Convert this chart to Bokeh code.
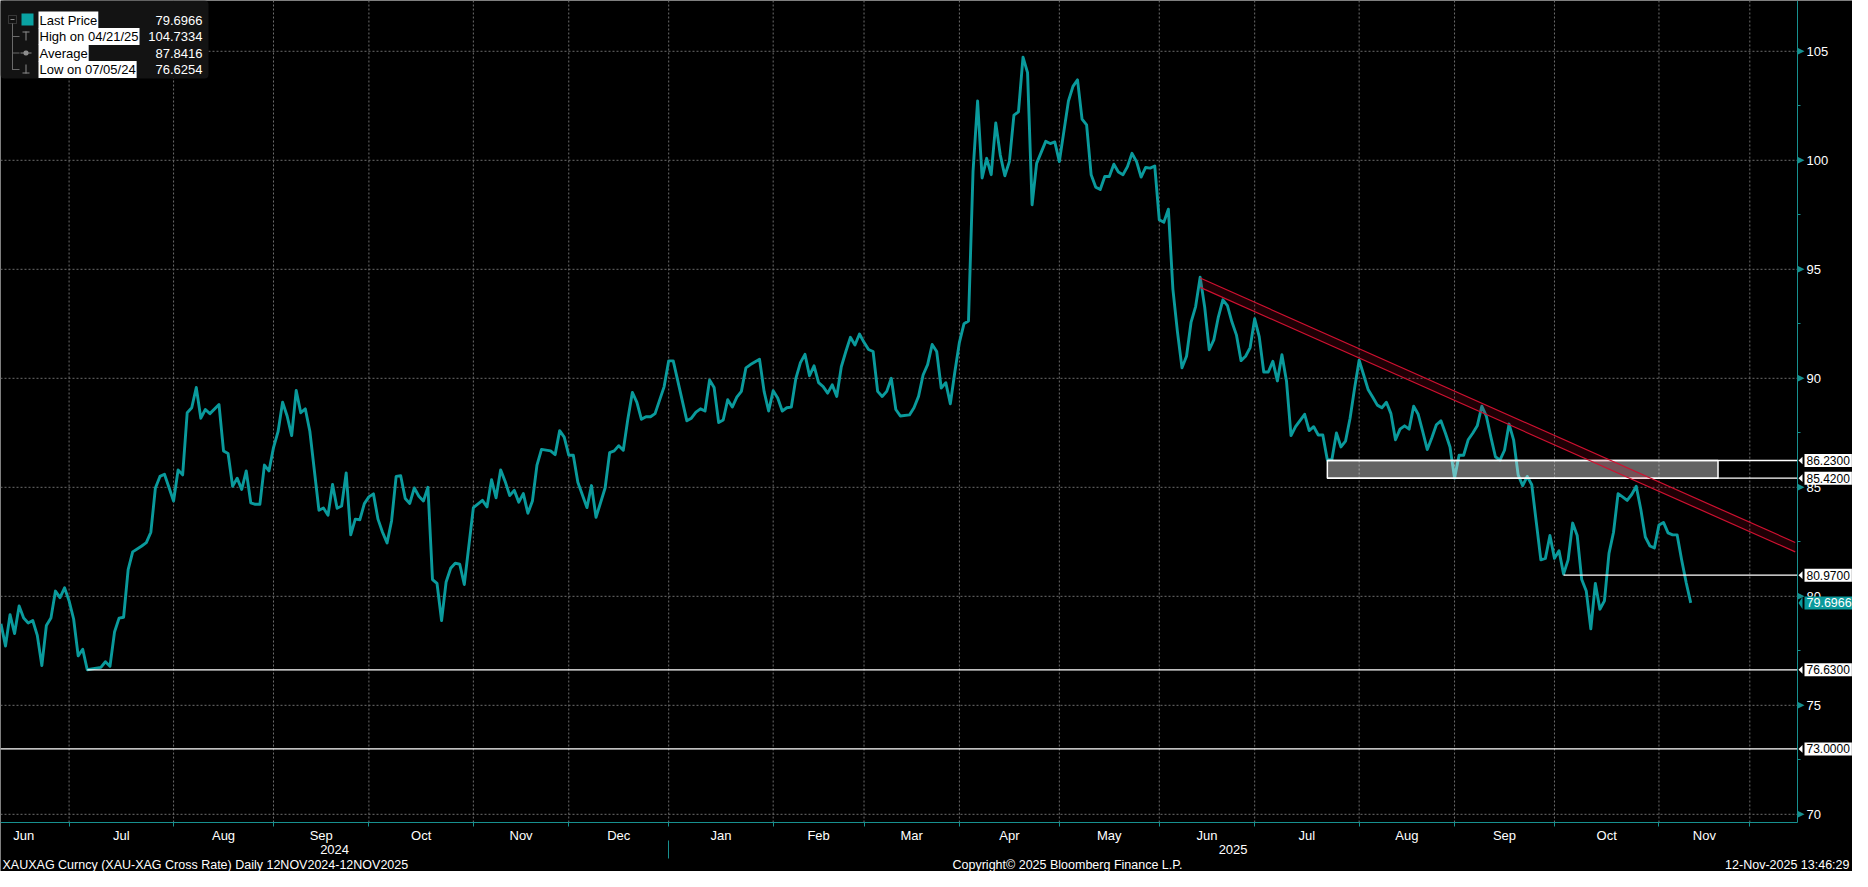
import numpy as np
from bokeh.plotting import figure
from bokeh.models import Range1d, FixedTicker, LinearAxis, Label, BoxAnnotation, PolyAnnotation
from bokeh.embed import file_html
from bokeh.resources import INLINE

# ---------------- data ----------------
dates = [
    "2024-06-10", "2024-06-11", "2024-06-12", "2024-06-13", "2024-06-14", "2024-06-17", "2024-06-18", "2024-06-19",
    "2024-06-20", "2024-06-21", "2024-06-24", "2024-06-25", "2024-06-26", "2024-06-27", "2024-06-28", "2024-07-01",
    "2024-07-02", "2024-07-03", "2024-07-04", "2024-07-05", "2024-07-10", "2024-07-11", "2024-07-12", "2024-07-15",
    "2024-07-16", "2024-07-17", "2024-07-18", "2024-07-19", "2024-07-23", "2024-07-24", "2024-07-25", "2024-07-26",
    "2024-07-29", "2024-07-30", "2024-08-01", "2024-08-02", "2024-08-05", "2024-08-06", "2024-08-07", "2024-08-08",
    "2024-08-09", "2024-08-12", "2024-08-13", "2024-08-15", "2024-08-16", "2024-08-19", "2024-08-20", "2024-08-21",
    "2024-08-22", "2024-08-23", "2024-08-26", "2024-08-27", "2024-08-28", "2024-08-29", "2024-08-30", "2024-09-02",
    "2024-09-03", "2024-09-04", "2024-09-05", "2024-09-06", "2024-09-09", "2024-09-10", "2024-09-11", "2024-09-12",
    "2024-09-16", "2024-09-17", "2024-09-18", "2024-09-19", "2024-09-20", "2024-09-23", "2024-09-24", "2024-09-25",
    "2024-09-26", "2024-09-27", "2024-09-30", "2024-10-01", "2024-10-02", "2024-10-03", "2024-10-04", "2024-10-07",
    "2024-10-08", "2024-10-09", "2024-10-10", "2024-10-11", "2024-10-14", "2024-10-15", "2024-10-16", "2024-10-17",
    "2024-10-18", "2024-10-21", "2024-10-22", "2024-10-23", "2024-10-24", "2024-10-25", "2024-10-28", "2024-10-29",
    "2024-10-30", "2024-11-01", "2024-11-05", "2024-11-06", "2024-11-07", "2024-11-08", "2024-11-11", "2024-11-12",
    "2024-11-13", "2024-11-14", "2024-11-15", "2024-11-18", "2024-11-19", "2024-11-20", "2024-11-21", "2024-11-22",
    "2024-11-26", "2024-11-27", "2024-11-28", "2024-11-29", "2024-12-02", "2024-12-03", "2024-12-04", "2024-12-06",
    "2024-12-09", "2024-12-10", "2024-12-12", "2024-12-13", "2024-12-16", "2024-12-17", "2024-12-18", "2024-12-19",
    "2024-12-20", "2024-12-23", "2024-12-24", "2024-12-25", "2024-12-26", "2024-12-27", "2024-12-31", "2025-01-01",
    "2025-01-02", "2025-01-03", "2025-01-07", "2025-01-08", "2025-01-09", "2025-01-10", "2025-01-13", "2025-01-14",
    "2025-01-15", "2025-01-16", "2025-01-17", "2025-01-20", "2025-01-21", "2025-01-22", "2025-01-23", "2025-01-24",
    "2025-01-27", "2025-01-29", "2025-01-30", "2025-01-31", "2025-02-03", "2025-02-04", "2025-02-05", "2025-02-06",
    "2025-02-07", "2025-02-10", "2025-02-11", "2025-02-12", "2025-02-13", "2025-02-14", "2025-02-17", "2025-02-18",
    "2025-02-19", "2025-02-20", "2025-02-21", "2025-02-24", "2025-02-25", "2025-02-26", "2025-02-27", "2025-02-28",
    "2025-03-03", "2025-03-04", "2025-03-05", "2025-03-06", "2025-03-07", "2025-03-10", "2025-03-11", "2025-03-12",
    "2025-03-13", "2025-03-17", "2025-03-18", "2025-03-19", "2025-03-20", "2025-03-21", "2025-03-24", "2025-03-25",
    "2025-03-26", "2025-03-27", "2025-03-28", "2025-03-31", "2025-04-01", "2025-04-02", "2025-04-03", "2025-04-04",
    "2025-04-07", "2025-04-08", "2025-04-09", "2025-04-10", "2025-04-11", "2025-04-14", "2025-04-15", "2025-04-16",
    "2025-04-17", "2025-04-18", "2025-04-21", "2025-04-22", "2025-04-23", "2025-04-24", "2025-04-28", "2025-04-29",
    "2025-04-30", "2025-05-01", "2025-05-05", "2025-05-06", "2025-05-07", "2025-05-08", "2025-05-09", "2025-05-12",
    "2025-05-13", "2025-05-14", "2025-05-15", "2025-05-16", "2025-05-19", "2025-05-20", "2025-05-21", "2025-05-22",
    "2025-05-23", "2025-05-26", "2025-05-27", "2025-05-28", "2025-05-29", "2025-05-30", "2025-06-02", "2025-06-03",
    "2025-06-04", "2025-06-05", "2025-06-06", "2025-06-09", "2025-06-10", "2025-06-11", "2025-06-12", "2025-06-13",
    "2025-06-16", "2025-06-17", "2025-06-18", "2025-06-19", "2025-06-20", "2025-06-23", "2025-06-24", "2025-06-25",
    "2025-06-26", "2025-06-27", "2025-06-30", "2025-07-01", "2025-07-02", "2025-07-03", "2025-07-04", "2025-07-07",
    "2025-07-08", "2025-07-09", "2025-07-10", "2025-07-11", "2025-07-14", "2025-07-16", "2025-07-17", "2025-07-18",
    "2025-07-21", "2025-07-22", "2025-07-23", "2025-07-24", "2025-07-25", "2025-07-28", "2025-07-29", "2025-07-30",
    "2025-07-31", "2025-08-01", "2025-08-04", "2025-08-05", "2025-08-06", "2025-08-07", "2025-08-08", "2025-08-11",
    "2025-08-12", "2025-08-13", "2025-08-14", "2025-08-15", "2025-08-18", "2025-08-19", "2025-08-20", "2025-08-21",
    "2025-08-22", "2025-08-25", "2025-08-26", "2025-08-27", "2025-08-28", "2025-08-29", "2025-09-01", "2025-09-02",
    "2025-09-03", "2025-09-04", "2025-09-05", "2025-09-08", "2025-09-09", "2025-09-10", "2025-09-11", "2025-09-12",
    "2025-09-15", "2025-09-16", "2025-09-17", "2025-09-18", "2025-09-19", "2025-09-22", "2025-09-23", "2025-09-24",
    "2025-09-25", "2025-09-26", "2025-09-29", "2025-09-30", "2025-10-01", "2025-10-02", "2025-10-03", "2025-10-06",
    "2025-10-07", "2025-10-08", "2025-10-09", "2025-10-10", "2025-10-13", "2025-10-14", "2025-10-15", "2025-10-16",
    "2025-10-17", "2025-10-20", "2025-10-21", "2025-10-22", "2025-10-23", "2025-10-24", "2025-10-27", "2025-10-28",
    "2025-10-29", "2025-10-30", "2025-10-31", "2025-11-03", "2025-11-04", "2025-11-05", "2025-11-06", "2025-11-07",
    "2025-11-10", "2025-11-11", "2025-11-12",
]
ratio = [
    78.74, 77.72, 79.16, 78.29, 79.56, 79.00, 78.78, 78.89,
    78.21, 76.82, 78.66, 79.00, 80.24, 79.94, 80.39, 79.79,
    78.96, 77.27, 77.57, 76.63, 76.74, 77.00, 76.79, 78.36,
    79.00, 79.04, 81.22, 82.04, 82.31, 82.46, 82.94, 84.97,
    85.50, 85.60, 84.37, 85.80, 85.57, 88.42, 88.65, 89.58,
    88.17, 88.57, 88.38, 88.80, 86.67, 86.55, 85.05, 85.42,
    84.90, 85.75, 84.29, 84.22, 84.22, 86.02, 85.75, 86.82,
    87.55, 88.90, 88.27, 87.37, 89.44, 88.42, 88.60, 87.57,
    83.95, 84.05, 83.72, 85.13, 84.04, 84.14, 85.66, 82.82,
    83.54, 83.51, 84.25, 84.56, 84.70, 83.54, 82.94, 82.45,
    83.47, 85.50, 85.53, 84.49, 84.26, 84.97, 84.59, 84.37,
    85.00, 80.77, 80.59, 78.89, 80.66, 81.29, 81.52, 81.47,
    80.54, 84.07, 84.40, 84.10, 85.35, 84.52, 85.80, 85.27,
    84.62, 84.86, 84.32, 84.71, 83.81, 84.37, 86.02, 86.74,
    86.67, 86.50, 87.60, 87.30, 86.47, 86.47, 85.23, 84.07,
    85.08, 83.62, 84.97, 86.59, 86.67, 86.91, 86.70, 88.12,
    89.35, 88.90, 88.12, 88.24, 88.24, 88.38, 89.62, 90.80,
    90.80, 89.88, 88.05, 88.17, 88.45, 88.60, 88.50, 89.92,
    89.58, 87.97, 88.09, 89.02, 88.68, 89.14, 89.40, 90.48,
    90.63, 90.87, 89.40, 88.50, 89.43, 89.10, 88.50, 88.65,
    88.68, 90.00, 90.72, 91.10, 90.12, 90.57, 89.80, 89.62,
    89.32, 89.70, 89.17, 90.53, 91.23, 91.88, 91.53, 92.03,
    91.65, 91.32, 91.23, 89.40, 89.17, 89.40, 90.00, 88.57,
    88.27, 88.32, 88.65, 89.17, 90.15, 90.63, 91.55, 91.23,
    89.55, 89.80, 88.83, 90.30, 91.65, 92.50, 92.63, 99.49,
    102.72, 99.19, 100.09, 99.34, 101.71, 100.24, 99.29, 99.94,
    102.07, 102.22, 104.73, 104.02, 97.96, 99.86, 100.87, 100.77,
    100.84, 99.94, 102.72, 103.39, 103.69, 101.89, 101.62, 99.34,
    98.77, 98.66, 99.26, 99.26, 99.82, 99.46, 99.34, 99.71,
    100.32, 99.94, 99.23, 99.67, 99.64, 99.74, 97.27, 97.16,
    97.76, 94.08, 92.13, 90.48, 91.01, 92.58, 93.29, 94.64,
    93.26, 91.31, 91.76, 92.81, 93.60, 93.33, 92.58, 91.98,
    90.81, 91.01, 91.41, 92.73, 91.91, 90.29, 90.29, 90.78,
    89.88, 91.08, 89.88, 87.37, 87.78, 88.35, 87.60, 87.78,
    87.40, 87.40, 86.25, 86.28, 87.49, 86.85, 87.12, 88.17,
    89.55, 90.83, 90.15, 89.47, 89.13, 88.77, 88.65, 88.90,
    88.38, 87.18, 87.67, 87.82, 87.67, 88.72, 88.35, 87.55,
    86.73, 87.27, 87.87, 88.05, 87.48, 86.85, 85.42, 86.47,
    86.47, 87.18, 87.48, 87.82, 88.72, 88.27, 87.30, 86.40,
    86.25, 86.70, 87.90, 87.18, 85.57, 85.08, 85.50, 85.12,
    83.39, 81.67, 81.74, 82.79, 81.74, 82.09, 81.02, 81.67,
    83.36, 82.79, 80.77, 80.24, 78.51, 80.59, 79.41, 79.79,
    81.97, 82.94, 84.71, 84.56, 84.40, 84.67, 85.05, 83.99,
    82.72, 82.31, 82.22, 83.27, 83.39, 82.91, 82.82, 82.82,
    81.67, 80.62, 79.6966,
]

month_starts = ["2024-06-03", "2024-07-01", "2024-08-01", "2024-09-02", "2024-10-01", "2024-11-01",
                "2024-12-02", "2025-01-01", "2025-02-03", "2025-03-03", "2025-04-01", "2025-05-01",
                "2025-06-02", "2025-07-01", "2025-08-01", "2025-09-01", "2025-10-01", "2025-11-03",
                "2025-12-01"]
month_labels = ["Jun", "Jul", "Aug", "Sep", "Oct", "Nov", "Dec", "Jan", "Feb", "Mar", "Apr", "May",
                "Jun", "Jul", "Aug", "Sep", "Oct", "Nov"]
year_labels = ["2024", "2025"]
year_start = "2025-01-01"
y_ticks = [70, 75, 80, 85, 90, 95, 100, 105]
y_minor = [72.5, 77.5, 82.5, 87.5, 92.5, 97.5, 102.5]

levels = [86.23, 85.42, 80.97, 76.63, 73.0]
level_labels = ["86.2300", "85.4200", "80.9700", "76.6300", "73.0000"]
level_start = ["2025-07-23", "2025-07-23", "2025-10-03", "2024-07-05", None]
zone_start, zone_end = "2025-07-23", "2025-11-20"
zone_low, zone_high = 85.42, 86.23
trend_dates = ["2025-06-13", "2025-12-15"]
trend_upper = [94.60, 82.47]
trend_lower = [94.17, 82.04]

last_price = 79.6966
last_label = "79.6966"
legend_names = ["Last Price", "High on 04/21/25", "Average", "Low on 07/05/24"]
legend_values = ["79.6966", "104.7334", "87.8416", "76.6254"]
footer_left = "XAUXAG Curncy (XAU-XAG Cross Rate) Daily 12NOV2024-12NOV2025"
footer_mid = "Copyright\u00a9 2025 Bloomberg Finance L.P."
footer_right = "12-Nov-2025 13:46:29"

# ---------------- helpers ----------------
START = np.datetime64("2024-06-10")


def bd(d):
    return float(np.busday_count(START, np.datetime64(d)))


x = [bd(d) for d in dates]

TEAL = "#0a9a9c"
AXIS = "#17908f"
GRID = "#6c6c6c"
FONT = "Liberation Sans"
FS = "13px"

W, H = 1852, 871          # figure = frame (no borders); axes are pinned inside
CW, CH = 1797, 822        # chart area (left/top aligned)
X0, X1 = -0.1, 395.5      # visible business-day span of the chart area
Y0, Y1 = 69.625, 107.33   # visible value span of the chart area
XF1 = X0 + (X1 - X0) * W / CW
YF0 = Y1 - (Y1 - Y0) * H / CH
PXU = CH / (Y1 - Y0)

p = figure(width=W, height=H, title=None, output_backend="svg", toolbar_location=None,
           x_range=Range1d(X0, XF1), y_range=Range1d(YF0, Y1), y_axis_location="right",
           min_border=0, min_border_left=0, min_border_top=0, min_border_right=0, min_border_bottom=0,
           background_fill_color="black", border_fill_color="black", outline_line_color=None)
p.xgrid.visible = False
p.ygrid.visible = False

bounds = [bd(d) for d in month_starts]
mids = [float((a + b) / 2) for a, b in zip(bounds[:-1], bounds[1:])]

# dashed grid limited to the chart area
vb = [b for b in bounds if X0 < b < X1]
p.segment(x0=vb, y0=[Y0] * len(vb), x1=vb, y1=[Y1] * len(vb),
          line_color=GRID, line_dash="2 2", line_width=1)
p.segment(x0=[X0] * len(y_ticks), y0=y_ticks, x1=[X1] * len(y_ticks), y1=y_ticks,
          line_color=GRID, line_dash="2 2", line_width=1)

# bottom axis (months), pinned at the chart bottom
xa = p.xaxis[0]
xa.fixed_location = Y0
xa.bounds = (X0, X1)
xa.ticker = FixedTicker(ticks=mids, minor_ticks=bounds)
xa.major_label_overrides = {m: t for m, t in zip(mids, month_labels)}
xa.axis_line_color = AXIS
xa.major_tick_line_color = None
xa.major_tick_out = 4
xa.major_tick_in = 0
xa.minor_tick_line_color = AXIS
xa.minor_tick_out = 4
xa.minor_tick_in = 0
xa.major_label_standoff = 1
xa.major_label_text_color = "white"
xa.major_label_text_font = FONT
xa.major_label_text_font_size = FS

# second bottom axis (years) with the year separator tick
jan1 = bd(year_start)
year_pos = [float((X0 + jan1) / 2), float((jan1 + X1) / 2)]
xa2 = LinearAxis(ticker=FixedTicker(ticks=year_pos, minor_ticks=[jan1]),
                 major_label_overrides=dict(zip(year_pos, year_labels)))
xa2.fixed_location = Y0
xa2.bounds = (X0, X1)
xa2.axis_line_color = None
xa2.major_tick_line_color = None
xa2.major_tick_out = 0
xa2.major_tick_in = 0
xa2.minor_tick_line_color = AXIS
xa2.minor_tick_out = 36
xa2.minor_tick_in = -18
xa2.major_label_standoff = -14
xa2.major_label_text_color = "white"
xa2.major_label_text_font = FONT
xa2.major_label_text_font_size = FS
p.add_layout(xa2, "below")

# right axis, pinned at the chart's right edge
ya = p.yaxis[0]
ya.fixed_location = X1
ya.bounds = (Y0, Y1)
ya.ticker = FixedTicker(ticks=y_ticks, minor_ticks=y_minor)
ya.axis_line_color = AXIS
ya.major_tick_line_color = None
ya.major_tick_out = 7
ya.major_tick_in = 0
ya.minor_tick_line_color = AXIS
ya.minor_tick_out = 3
ya.minor_tick_in = 0
ya.major_label_standoff = 2
ya.major_label_text_color = "white"
ya.major_label_text_font = FONT
ya.major_label_text_font_size = FS

# main series
p.line(x, ratio, line_color=TEAL, line_width=2.9, line_join="round")

# support zone (translucent light box over the series)
p.quad(left=[bd(zone_start)], right=[bd(zone_end)], bottom=[zone_low], top=[zone_high],
       fill_color="white", fill_alpha=0.39, line_color="white", line_width=1.5)

# horizontal levels
lv_x0 = [bd(d) if d else X0 for d in level_start]
p.segment(x0=lv_x0, y0=levels, x1=[X1] * len(levels), y1=levels, line_color="white", line_width=1.3)

# trend channel
tx = [bd(d) for d in trend_dates]
p.patch(x=[tx[0], tx[1], tx[1], tx[0]],
        y=[trend_upper[0], trend_upper[1], trend_lower[1], trend_lower[0]],
        fill_color="#c0001c", fill_alpha=0.16, line_color=None)
p.line(tx, trend_upper, line_color="#d01030", line_width=1.2)
p.line(tx, trend_lower, line_color="#d01030", line_width=1.2)

# right-axis arrows
h = 3.5 / PXU
for t in y_ticks:
    p.add_layout(PolyAnnotation(xs=[CW, CW + 7, CW], xs_units="canvas", ys=[t + h, t, t - h], ys_units="data",
                                fill_color=AXIS, fill_alpha=1, line_color=None))

# callouts for levels
for lv, txt in zip(levels, level_labels):
    p.add_layout(PolyAnnotation(xs=[CW + 1, CW + 5, CW + 5], xs_units="canvas",
                                ys=[lv, lv + h * 1.1, lv - h * 1.1], ys_units="data",
                                fill_color="white", fill_alpha=1, line_color=None))
    p.add_layout(Label(x=CW + 7, x_units="canvas", y=lv, y_units="data", text=txt,
                       text_align="left", text_baseline="middle", text_color="black",
                       text_font=FONT, text_font_size="12px", background_fill_color="white",
                       background_fill_alpha=1, padding=2))

p.add_layout(PolyAnnotation(xs=[CW + 1, CW + 5, CW + 5], xs_units="canvas",
                            ys=[last_price, last_price + h * 1.7, last_price - h * 1.7], ys_units="data",
                            fill_color=TEAL, fill_alpha=1, line_color=None))
p.add_layout(Label(x=CW + 7, x_units="canvas", y=last_price, y_units="data", text=last_label,
                   text_align="left", text_baseline="middle", text_color="white",
                   text_font=FONT, text_font_size="12.5px", background_fill_color=TEAL,
                   background_fill_alpha=1, padding=2))

# footer
for txt, xx, al in ((footer_left, 2, "left"), (footer_mid, 1067, "center"), (footer_right, W - 3, "right")):
    p.add_layout(Label(x=xx, y=CH + 42, x_units="canvas", y_units="canvas", text=txt,
                       text_align=al, text_baseline="middle", text_color="white",
                       text_font=FONT, text_font_size="12.5px"))


# legend panel (top-left)
def cbox(l, t, r, b, color, radius=0):
    p.add_layout(BoxAnnotation(left=l, right=r, top=t, bottom=b, left_units="canvas", right_units="canvas",
                               top_units="canvas", bottom_units="canvas", fill_color=color, fill_alpha=1,
                               line_color=None, border_radius=radius, level="overlay"))


cbox(0, 0, 208, 78, "#131313", 4)
ICON = "#8c8c8c"
rows = [19.5, 36, 52.5, 69]
p.add_layout(BoxAnnotation(left=8, right=16, top=15, bottom=23, left_units="canvas", right_units="canvas",
                           top_units="canvas", bottom_units="canvas", fill_color=None, line_color=ICON,
                           line_width=1, level="overlay"))
cbox(10, 18.5, 14, 19.5, ICON)
cbox(11.5, 23, 12.5, 69, "#6a6a6a")
for r in rows[1:]:
    cbox(11.5, r - 0.5, 19, r + 0.5, "#6a6a6a")
cbox(21, 13, 33, 25, "#0aa3a3")
cbox(22, 31, 29, 32, ICON)
cbox(25, 31, 26, 40, ICON)
cbox(20, 52, 31, 53, ICON)
cbox(23, 50, 28, 55, ICON, 2)
cbox(25, 64, 26, 73, ICON)
cbox(22, 72, 29, 73, ICON)

for r, name, val in zip(rows, legend_names, legend_values):
    p.add_layout(Label(x=38, y=r, x_units="canvas", y_units="canvas", text=name,
                       text_align="left", text_baseline="middle", text_color="black",
                       text_font=FONT, text_font_size="13px", background_fill_color="white",
                       background_fill_alpha=1, padding=1, level="overlay"))
    p.add_layout(Label(x=202, y=r, x_units="canvas", y_units="canvas", text=val,
                       text_align="right", text_baseline="middle", text_color="white",
                       text_font=FONT, text_font_size="13px", level="overlay"))

open("out.html", "w").write(file_html(p, INLINE))
